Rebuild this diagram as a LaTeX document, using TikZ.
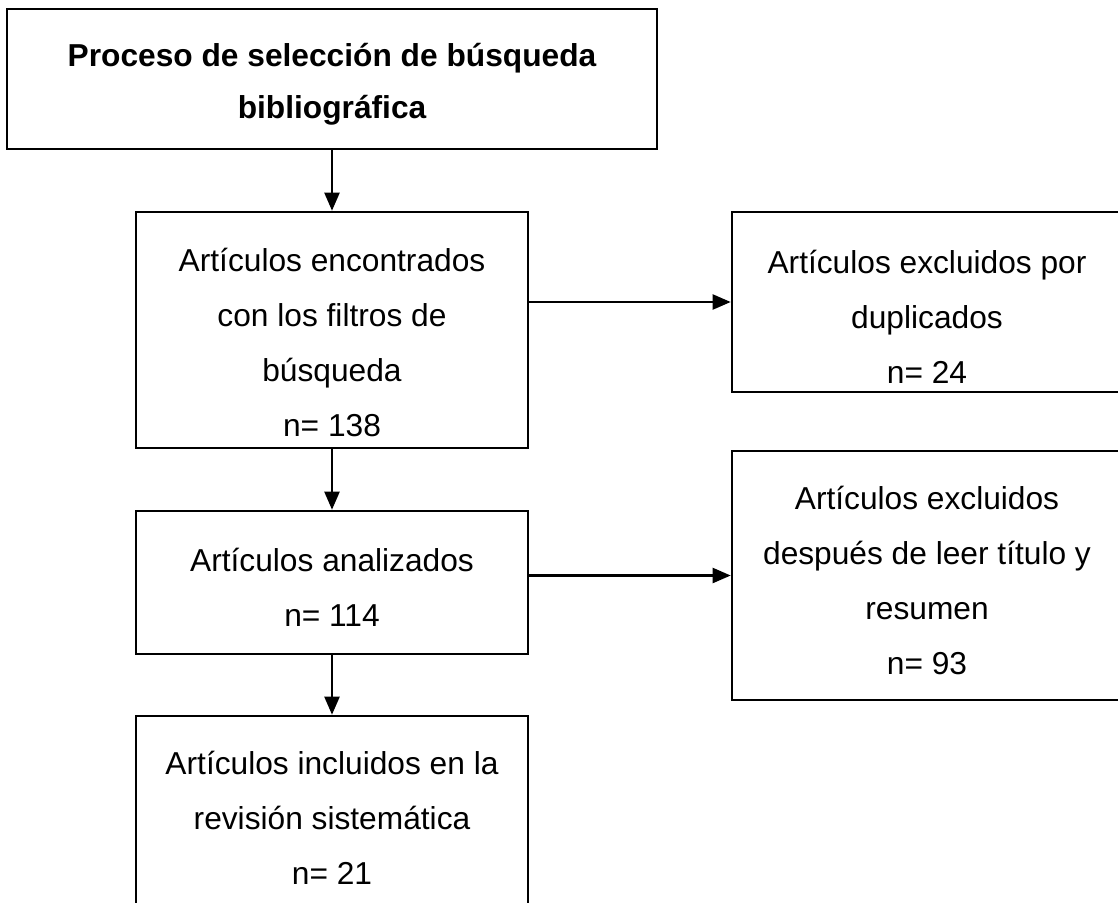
\documentclass[tikz,border=0pt]{standalone}
\usepackage{fontspec}
\setmainfont{Liberation Sans}
\usetikzlibrary{arrows.meta}

\newcommand{\boxtext}[4][59.5pt]{\parbox[c][#3][t]{#2}{\centering\rule{0pt}{#1}#4}}

\begin{document}
\begin{tikzpicture}[x=1pt, y=-1pt,
        box/.style={draw, line width=2.6pt, inner sep=0pt, font=\fontsize{31.7}{55}\selectfont},
        arr/.style={line width=2.2pt, -{Triangle[length=18pt, width=15pt]}}]
    \useasboundingbox (0, 0) rectangle (1118, 902);
    \clip (0, 0) rectangle (1118, 902);

    \node[box, font=\fontsize{31.7}{52}\selectfont\bfseries] (title) at (332, 79) {\boxtext[57.5pt]{650pt}{140pt}{Proceso de selección de búsqueda\\bibliográfica}};
    \node[box] (found) at (332, 330) {\boxtext{392pt}{236pt}{Artículos encontrados\\con los filtros de\\búsqueda\\n= 138}};
    \node[box] (dup) at (927, 302) {\boxtext[61pt]{390pt}{180pt}{Artículos excluidos por\\duplicados\\n= 24}};
    \node[box] (analyzed) at (332, 582.5) {\boxtext[60.5pt]{392pt}{143pt}{Artículos analizados\\n= 114}};
    \node[box] (excl) at (927, 575.5) {\boxtext[58.5pt]{390pt}{249pt}{Artículos excluidos\\después de leer título y\\resumen\\n= 93}};
    \node[box] (incl) at (332, 818) {\boxtext[58.5pt]{392pt}{204pt}{Artículos incluidos en la\\revisión sistemática\\n= 21}};

    \draw[arr] (title) -- (found);
    \draw[arr] (found) -- (analyzed);
    \draw[arr] (analyzed) -- (incl);
    \draw[arr] (dup.west -| found.east) -- (dup.west);
    \draw[arr] (excl.west -| analyzed.east) -- (excl.west);
\end{tikzpicture}
\end{document}
